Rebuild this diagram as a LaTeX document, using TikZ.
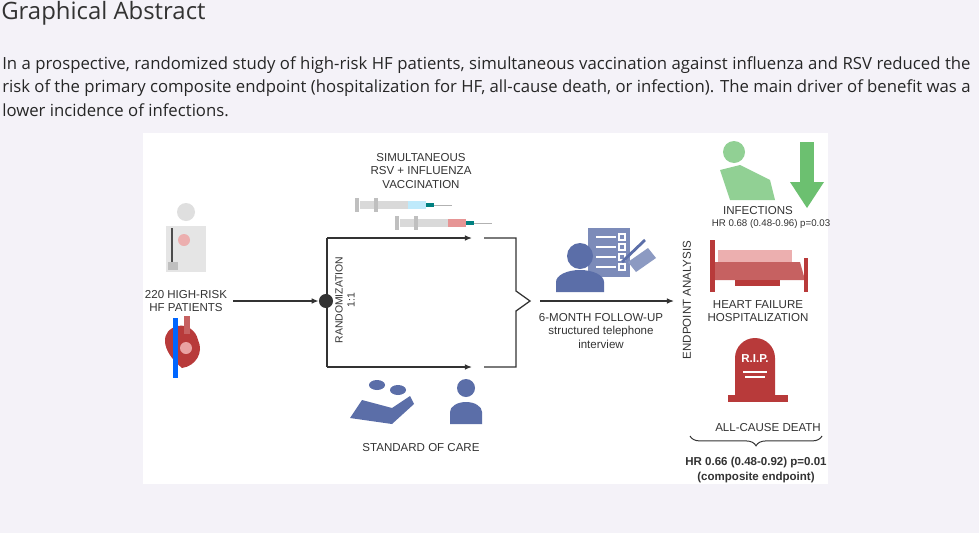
\documentclass[tikz,border=0pt]{standalone}
\usepackage{fontspec}
\setmainfont{Liberation Sans}
\newfontfamily\bodyfont{Open Sans}
\usetikzlibrary{calc,decorations.pathreplacing,arrows.meta}
\definecolor{pagebg}{HTML}{F4F2F8}
\definecolor{iconblue}{HTML}{5B6EA8}
\definecolor{iconred}{HTML}{B83A3A}
\definecolor{iconpink}{HTML}{E07A7A}
\definecolor{icongreen}{HTML}{6CC070}
\definecolor{linegray}{HTML}{333333}
\begin{document}
\begin{tikzpicture}[x=0.025cm,y=-0.025cm,
  lbl/.style={font=\fontsize{8.2}{9.6}\selectfont,align=center,text=linegray,inner sep=0pt},
  flow/.style={draw=linegray,line width=0.9pt},
  arr/.style={flow,-{Latex[length=5pt,width=4pt]}}]

% page and panel
\fill[pagebg] (0,0) rectangle (979,533);
\fill[white] (143,133) rectangle (828,484);

% heading and summary
\node[anchor=west,inner sep=0pt,font=\bodyfont\fontsize{17}{20}\selectfont,text=black!80] (title) at (1,13) {Graphical Abstract};
\node[anchor=north west,inner sep=0pt,font=\bodyfont\fontsize{11.9}{17}\selectfont,text=black!85] (summary) at (2,56)
  {\parbox{24.2cm}{In a prospective, randomized study of high-risk HF patients, simultaneous vaccination against influenza and RSV reduced the\linebreak
  risk of the primary composite endpoint (hospitalization for HF, all-cause death, or infection). The main driver of benefit was a\linebreak
  lower incidence of infections.}};

% patients
\node[lbl] (pat) at (186,301) {220 HIGH-RISK\\HF PATIENTS};
\fill[gray!25] (186,212) circle (9);
\fill[gray!20] (166,226) rectangle (206,272);
\fill[iconpink!60] (184,240) circle (6);
\draw[black!70,line width=1.2pt] (172,228) -- (172,262);
\fill[gray!50] (168,262) rectangle (178,270);
% heart
\fill[iconred] (182,368) .. controls (160,350) and (160,330) .. (178,326) .. controls (186,324) and (196,330) .. (198,340) .. controls (204,352) and (196,366) .. (182,368) -- cycle;
\fill[blue!60!cyan] (173,318) rectangle (178,378);
\fill[iconred!80] (184,316) rectangle (190,334);
\fill[iconpink!70] (186,348) circle (6);

% randomization
\node[circle,fill=linegray,inner sep=0pt,minimum size=10pt] (rand) at (326,301) {};
\draw[arr] (pat.east) ++(6,0) -- (rand.west);
\coordinate (topL) at (327,238);
\coordinate (botL) at (327,367);
\coordinate (topR) at (472,238);
\coordinate (botR) at (472,367);
\draw[flow] (topL) -- (botL);
\draw[arr] (topL) -- (topR);
\draw[arr] (botL) -- (botR);
\node[lbl,rotate=90,font=\fontsize{7.4}{8.6}\selectfont] (randlbl) at (345,300) {RANDOMIZATION\\1:1};
% merge bracket
\coordinate (mergeTip) at (530,301);
\draw[flow] (484,238) -- (516,238) -- (516,291) -- (mergeTip) -- (516,311) -- (516,367) -- (484,367);
\coordinate (fuEnd) at (674,301);
\draw[arr] (540,301) -- (fuEnd);

% vaccination
\node[lbl] (vacc) at (421,171) {SIMULTANEOUS\\RSV + INFLUENZA\\VACCINATION};
\foreach \sx/\sy/\tint in {360/205/cyan!25, 400/223/iconpink!80}{
  \fill[gray!30] (\sx,\sy-4) rectangle (\sx+48,\sy+4);
  \fill[\tint] (\sx+48,\sy-4) rectangle (\sx+66,\sy+4);
  \fill[gray!50] (\sx-5,\sy-7) rectangle (\sx-1,\sy+7);
  \fill[gray!50] (\sx+14,\sy-7) rectangle (\sx+18,\sy+7);
  \fill[teal] (\sx+66,\sy-2) rectangle (\sx+74,\sy+2);
  \draw[gray!60] (\sx+74,\sy) -- (\sx+92,\sy);
}

% standard of care
\fill[iconblue] (350,418) -- (362,400) -- (392,408) -- (410,396) -- (414,404) -- (392,424) -- cycle;
\fill[iconblue] (377,385) ellipse (8 and 5);
\fill[iconblue] (398,390) ellipse (8 and 5);
\fill[iconblue] (466,388) circle (9);
\fill[iconblue] (450,424) -- (482,424) -- (482,412) arc (0:-180:16 and 10) -- cycle;
\node[lbl] (soc) at (421,448) {STANDARD OF CARE};

% follow-up
\fill[iconblue!80] (588,228) rectangle (630,277);
\foreach \ly in {237,247,257,267}{
  \draw[white,line width=1.5pt] (596,\ly) -- (616,\ly);
  \draw[white,line width=0.8pt] (619,\ly-3) rectangle (625,\ly+3);
}
\fill[iconblue] (580,256) circle (13);
\fill[iconblue] (556,292) -- (604,292) -- (604,282) arc (0:-180:24 and 12) -- cycle;
\fill[iconblue!70] (628,262) -- (648,248) -- (656,258) -- (636,272) -- cycle;
\draw[iconblue,line width=2pt] (622,262) -- (645,240);
\node[lbl] (fu) at (601,331) {6-MONTH FOLLOW-UP\\structured telephone\\interview};

% endpoints
\node[lbl,rotate=90] (endp) at (687,300) {ENDPOINT ANALYSIS};
\fill[icongreen!75] (734,152) circle (11);
\fill[icongreen!75] (720,170) -- (740,165) -- (770,180) -- (775,200) -- (730,200) -- cycle;
\fill[icongreen] (800,142) rectangle (814,182);
\fill[icongreen] (790,182) -- (824,182) -- (807,208) -- cycle;
\node[lbl] (inf) at (758,211) {INFECTIONS};
\node[lbl,font=\fontsize{6.9}{8}\selectfont] (infhr) at (771,224) {HR 0.68 (0.48-0.96) p=0.03};

\fill[iconred!80] (712,262) -- (800,262) -- (805,280) -- (712,280) -- cycle;
\fill[iconpink!60] (718,250) rectangle (792,262);
\fill[iconred] (710,240) rectangle (715,292);
\fill[iconred] (804,258) rectangle (808,292);
\fill[iconred] (735,280) rectangle (780,286);
\node[lbl] (hfh) at (758,311) {HEART FAILURE\\HOSPITALIZATION};

\fill[iconred] (735,395) -- (735,358) arc (180:360:20) -- (775,395) -- cycle;
\fill[iconred] (728,395) rectangle (788,402);
\node[font=\bfseries\fontsize{8.2}{9}\selectfont,text=white,inner sep=0pt] (rip) at (755,359) {R.I.P.};
\draw[white,line width=0.8pt] (743,372) -- (767,372) (745,377) -- (765,377);
\node[lbl] (death) at (768,428) {ALL-CAUSE DEATH};

\draw[flow,line width=0.7pt,decorate,decoration={brace,mirror,amplitude=7pt}] (690,436) -- (822,436);
\node[lbl,font=\bfseries\fontsize{8.2}{10}\selectfont] (comp) at (756,470) {HR 0.66 (0.48-0.92) p=0.01\\(composite endpoint)};
\end{tikzpicture}
\end{document}
